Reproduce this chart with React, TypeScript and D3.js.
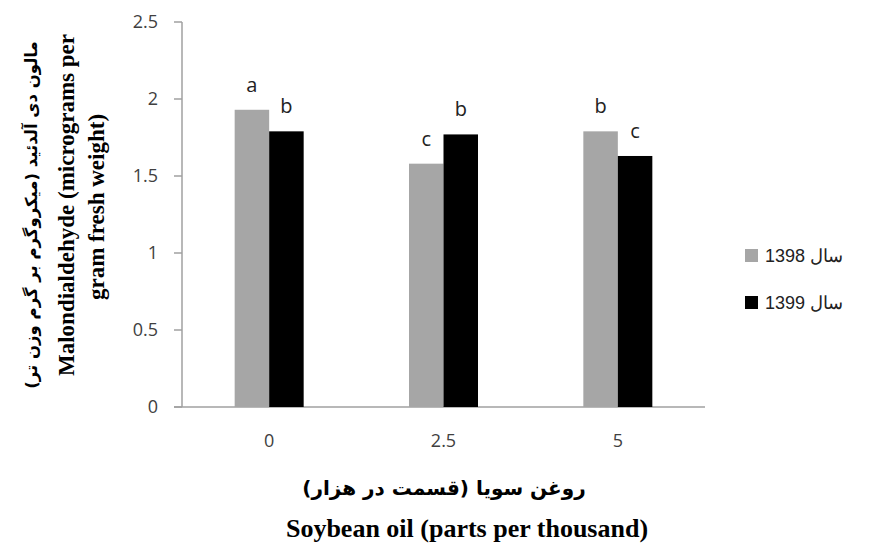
import React from "react";
import * as d3 from "d3";

const categories = ["0", "2.5", "5"];
const seriesNames = ["سال 1398", "سال 1399"];
const values1398 = [1.93, 1.58, 1.79];
const values1399 = [1.79, 1.77, 1.63];
const letters1398 = ["a", "c", "b"];
const letters1399 = ["b", "b", "c"];
const yTicks = [0, 0.5, 1, 1.5, 2, 2.5];
const colors = ["#a6a6a6", "#000000"];

export default function App() {
  const W = 871, H = 549;
  const x0 = 182, x1 = 705, yTop = 22, yBot = 407;
  const x = d3.scaleBand<string>().domain(categories).range([x0, x1]);
  const y = d3.scaleLinear().domain([0, 2.5]).range([yBot, yTop]);
  const barW = 34.5;
  const series = [values1398, values1399];
  const lettersArr = [letters1398, letters1399];
  const tickFont = "'Open Sans', 'Liberation Sans', Arial, sans-serif";
  const serif = "'Liberation Serif', 'Times New Roman', serif";
  return (
    <svg width={W} height={H} style={{ position: "absolute", left: 0, top: 0, background: "#fff" }}>
      <rect x={0} y={0} width={W} height={H} fill="#fff" />
      {/* axes */}
      <line x1={x0} x2={x0} y1={yTop} y2={yBot} stroke="#a0a0a0" strokeWidth={1.5} />
      <line x1={x0 - 8} x2={x1} y1={yBot} y2={yBot} stroke="#a0a0a0" strokeWidth={1.5} />
      {yTicks.map((t) => (
        <g key={t}>
          <line x1={x0 - 8} x2={x0} y1={y(t)} y2={y(t)} stroke="#a0a0a0" strokeWidth={1.5} />
          <text x={158} y={y(t)} dy="0.35em" textAnchor="end" fontFamily={tickFont} fontSize={18} fill="#404040">
            {String(t)}
          </text>
        </g>
      ))}
      {/* bars */}
      {categories.map((c, i) => {
        const cx = (x(c) as number) + x.bandwidth() / 2;
        return (
          <g key={c}>
            {series.map((s, k) => {
              const bx = cx - barW + k * barW;
              return (
                <g key={k}>
                  <rect x={bx} y={y(s[i])} width={barW} height={yBot - y(s[i])} fill={colors[k]} />
                  <text x={bx + barW / 2} y={y(s[i]) - 18} textAnchor="middle" fontFamily={tickFont} fontSize={20} fill="#222">
                    {lettersArr[k][i]}
                  </text>
                </g>
              );
            })}
            <text x={cx} y={447} textAnchor="middle" fontFamily={tickFont} fontSize={18} fill="#404040">
              {c}
            </text>
          </g>
        );
      })}
      {/* x titles */}
      <text x={444} y={495} textAnchor="middle" fontFamily="'DejaVu Sans', sans-serif" fontWeight="bold" fontSize={20} fill="#000" direction="rtl">
        روغن سویا (قسمت در هزار)
      </text>
      <text x={467} y={537} textAnchor="middle" fontFamily={serif} fontWeight="bold" fontSize={26} fill="#000">
        Soybean oil (parts per thousand)
      </text>
      {/* y titles */}
      <text transform="translate(37,215) rotate(-90)" textAnchor="middle" fontFamily="'DejaVu Sans', sans-serif" fontWeight="bold" fontSize={16.5} fill="#000" direction="rtl">
        مالون دی آلدئید (میکروگرم بر گرم وزن تر)
      </text>
      <text transform="translate(74,205) rotate(-90)" textAnchor="middle" fontFamily={serif} fontWeight="bold" fontSize={23} fill="#000">
        Malondialdehyde (micrograms per
      </text>
      <text transform="translate(104,207) rotate(-90)" textAnchor="middle" fontFamily={serif} fontWeight="bold" fontSize={23} fill="#000">
        gram fresh weight)
      </text>
      {/* legend */}
      {seriesNames.map((n, k) => (
        <g key={n}>
          <rect x={745} y={249 + k * 47} width={13} height={13} fill={colors[k]} />
          <text x={765} y={256 + k * 47} dy="0.35em" fontFamily="'Liberation Sans', Arial, sans-serif" fontSize={18} fill="#222">
            {n}
          </text>
        </g>
      ))}
    </svg>
  );
}
